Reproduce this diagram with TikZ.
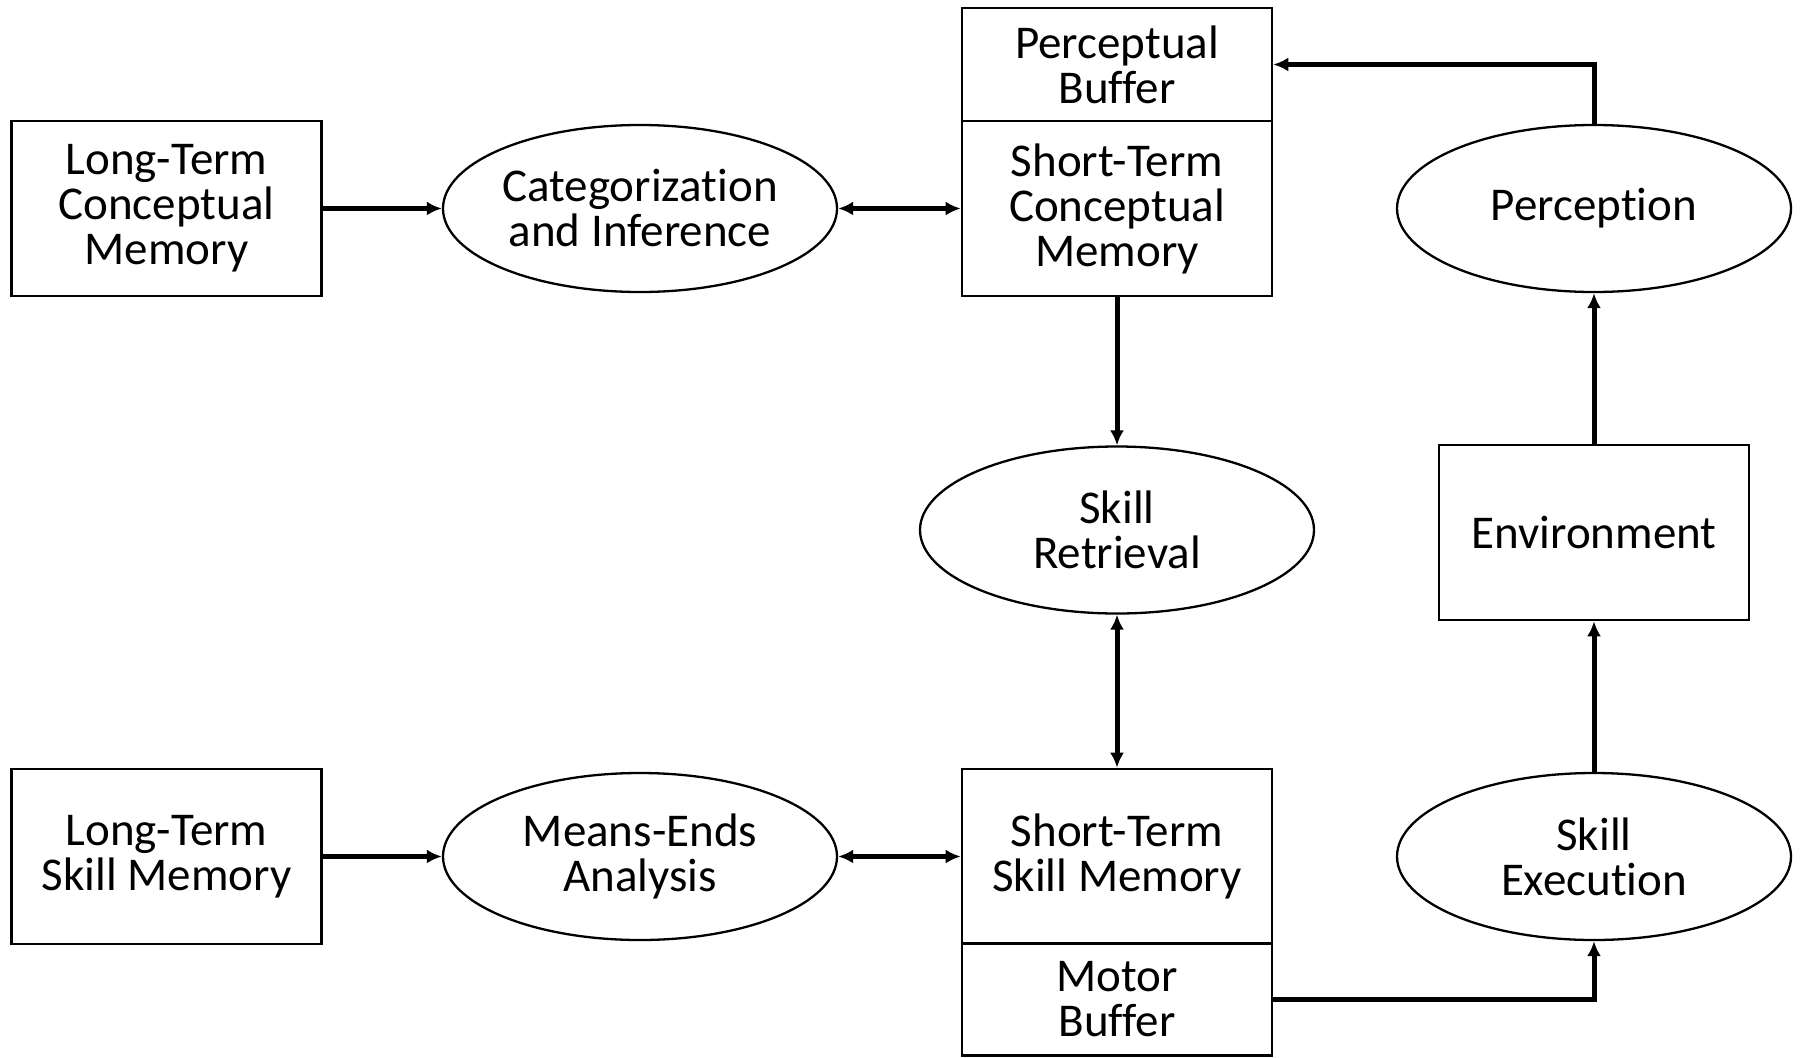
\documentclass[tikz,border=0pt]{standalone}
\usepackage{fontspec}
\setmainfont{Carlito}[Ligatures=NoCommon]
\usetikzlibrary{positioning,shapes,arrows.meta}

\begin{document}
\begin{tikzpicture}[x=1pt,y=-1pt,
  every node/.append style={font=\fontsize{47}{45}\selectfont},
  box/.style={draw,line width=2.6pt,minimum width=310pt,minimum height=175pt,align=center,inner sep=0pt},
  buf/.style={box,minimum height=112pt},
  proc/.style={draw,ellipse,line width=2.3pt,minimum width=394pt,minimum height=167pt,align=center,inner sep=0pt},
  link/.style={line width=5pt,-{Latex[length=15pt,width=14pt]}},
  both/.style={line width=5pt,{Latex[length=15pt,width=14pt]}-{Latex[length=15pt,width=14pt]}}]
\useasboundingbox (0,0) rectangle (1803,1057);
% conceptual side
\node[box] (ltcm) at (166.5,208.5) {Long-Term\\Conceptual\\Memory};
\node[proc] (cat) at (640,208.5) {Categorization\\and Inference};
\node[box] (stcm) at (1117,208.5) {Short-Term\\Conceptual\\Memory};
\node[buf,minimum height=113pt] (pbuf) at (1117,64.5) {Perceptual\\Buffer};
\node[proc] (perc) at (1594,208.5) {Perception};
% middle
\node[proc] (ret) at (1117,530) {Skill\\Retrieval};
\node[box] (env) at (1594,532.5) {Environment};
% skill side
\node[box] (ltsm) at (166.5,856.5) {Long-Term\\Skill Memory};
\node[proc] (mea) at (640,856.5) {Means-Ends\\Analysis};
\node[box] (stsm) at (1117,856.5) {Short-Term\\Skill Memory};
\node[buf] (mbuf) at (1117,999.5) {Motor\\Buffer};
\node[proc] (exec) at (1594,856.5) {Skill\\Execution};

\draw[link] (ltcm.east) -- (cat.west);
\draw[both] (cat.east) -- (stcm.west);
\draw[link] (stcm.south) -- (ret.north);
\draw[both] (ret.south) -- (stsm.north);
\draw[link] (ltsm.east) -- (mea.west);
\draw[both] (mea.east) -- (stsm.west);
\draw[link] (mbuf.east) -| (exec.south);
\draw[link] (exec.north) -- (env.south);
\draw[link] (env.north) -- (perc.south);
\draw[link] (perc.north) |- (pbuf.east);
\end{tikzpicture}
\end{document}
